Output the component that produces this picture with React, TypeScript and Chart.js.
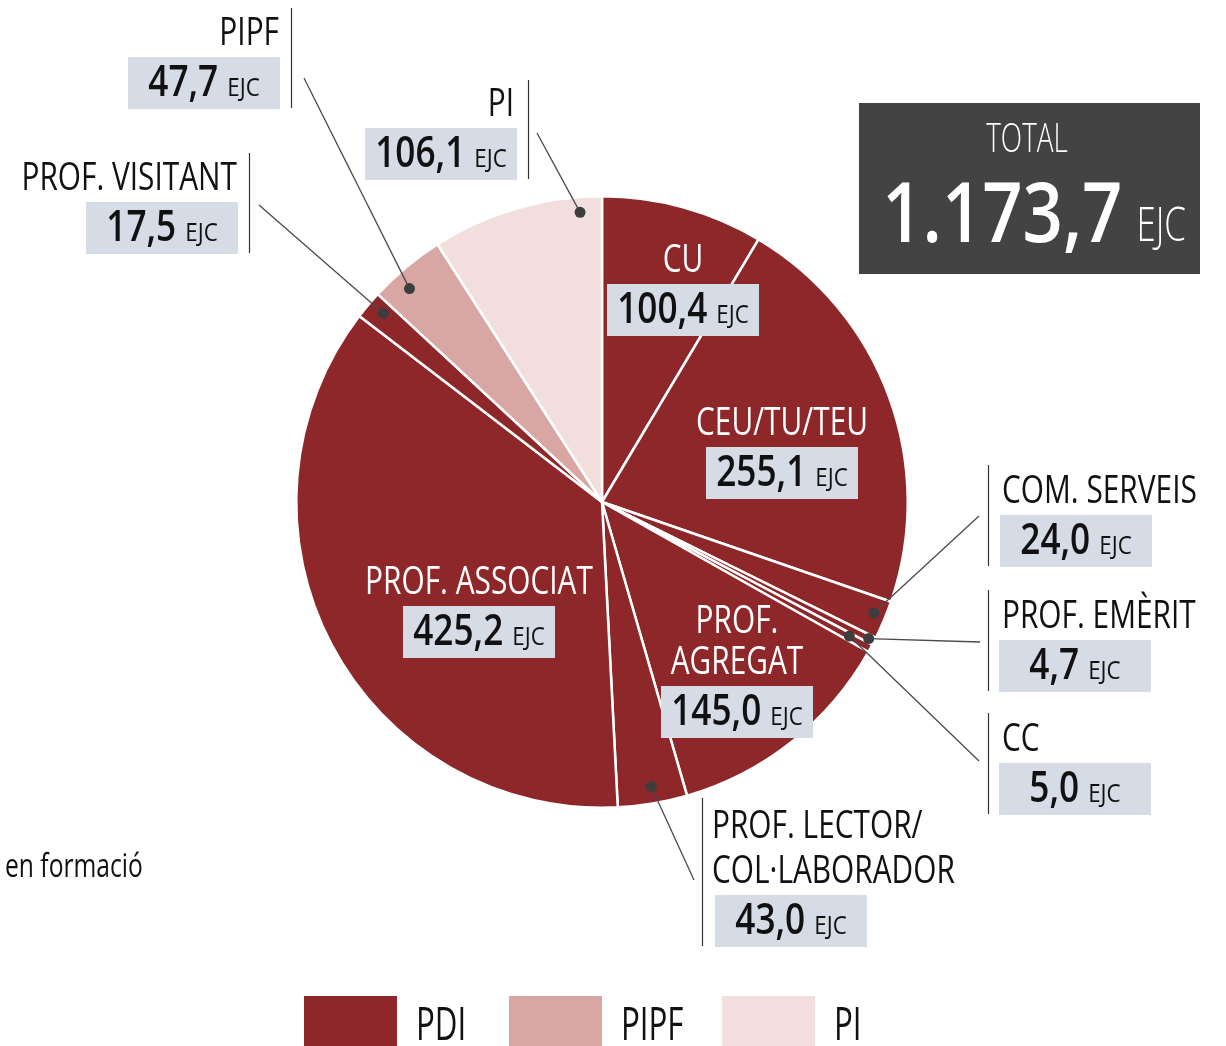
import React, { useEffect, useRef } from 'react';
import { Chart, registerables } from 'chart.js';

Chart.register(...registerables);

// ---------------- DATA ----------------
const CATEGORIES = [
  'CU',
  'CEU/TU/TEU',
  'COM. SERVEIS',
  'PROF. EMÈRIT',
  'CC',
  'PROF. AGREGAT',
  'PROF. LECTOR/COL·LABORADOR',
  'PROF. ASSOCIAT',
  'PROF. VISITANT',
  'PIPF',
  'PI',
];
const LABEL_LINES = [
  ['CU'],
  ['CEU/TU/TEU'],
  ['COM. SERVEIS'],
  ['PROF. EMÈRIT'],
  ['CC'],
  ['PROF.', 'AGREGAT'],
  ['PROF. LECTOR/', 'COL·LABORADOR'],
  ['PROF. ASSOCIAT'],
  ['PROF. VISITANT'],
  ['PIPF'],
  ['PI'],
];
const VALUES = [100.4, 255.1, 24.0, 4.7, 5.0, 145.0, 43.0, 425.2, 17.5, 47.7, 106.1];
const GROUP_OF = ['PDI', 'PDI', 'PDI', 'PDI', 'PDI', 'PDI', 'PDI', 'PDI', 'PDI', 'PIPF', 'PI'];
const LEGEND_GROUPS = ['PDI', 'PIPF', 'PI'];
const UNIT = 'EJC';
const TOTAL_TITLE = 'TOTAL';
const FOOTNOTE = 'en formació';

// ---------------- STYLE / LAYOUT ----------------
const GROUP_COLORS: Record<string, string> = {
  PDI: '#8E2729',
  PIPF: '#D8A7A3',
  PI: '#F1DEDD',
};
const BOX_BG = '#D6DCE5';
const BOX_W = 152;
const BOX_H = 52;
const FONT_FAMILY = '"Open Sans", "Noto Sans", sans-serif';
const LABEL_FONT = `400 39px ${FONT_FAMILY}`;
const LABEL_SX = 0.765;
const NUM_FONT = `600 44px ${FONT_FAMILY}`;
const NUM_SX = 0.8;
const UNIT_FONT = `400 26px ${FONT_FAMILY}`;
const UNIT_SX = 0.86;
const NUM_GAP = 9;
const LEADER_COLOR = '#4A4A4A';
const DOT_COLOR = '#3D3D3D';

type Layout = {
  mode: 'inside' | 'left' | 'right';
  boxX: number;
  boxY: number;
  lineGap?: number;
  textX?: number;
  lineX?: number;
  lineTop?: number;
  from?: [number, number];
  t?: number;
  rFrac?: number;
};

const LAYOUT: Layout[] = [
  { mode: 'inside', boxX: 607, boxY: 284 },
  { mode: 'inside', boxX: 706, boxY: 447 },
  { mode: 'right', boxX: 1000, boxY: 515, textX: 1002, lineX: 988, lineTop: 465, from: [979, 516], t: 0.43, rFrac: 0.96 },
  { mode: 'right', boxX: 999, boxY: 640, textX: 1002, lineX: 988, lineTop: 590, from: [980, 642], t: 0.5, rFrac: 0.98 },
  { mode: 'right', boxX: 999, boxY: 763, textX: 1002, lineX: 988, lineTop: 713, from: [979, 761], t: 0.4, rFrac: 0.92 },
  { mode: 'inside', boxX: 661, boxY: 686, lineGap: 41 },
  { mode: 'right', boxX: 715, boxY: 895, textX: 712, lineX: 702, lineTop: 798, lineGap: 45, from: [694, 880], t: 0.48, rFrac: 0.945 },
  { mode: 'inside', boxX: 403, boxY: 606 },
  { mode: 'left', boxX: 86, boxY: 202, textX: 237, lineX: 249, lineTop: 153, from: [259, 205], t: 0.62, rFrac: 0.945 },
  { mode: 'left', boxX: 128, boxY: 57, textX: 279, lineX: 291, lineTop: 8, from: [304, 78], t: 0.35, rFrac: 0.94 },
  { mode: 'left', boxX: 365, boxY: 128, textX: 514, lineX: 528, lineTop: 80, from: [537, 133], t: 0.867, rFrac: 0.95 },
];

const LEGEND_X = [304, 509, 722];

function fmt(v: number): string {
  const [i, d] = v.toFixed(1).split('.');
  return i.replace(/\B(?=(\d{3})+(?!\d))/g, '.') + ',' + d;
}

function txt(
  ctx: CanvasRenderingContext2D,
  s: string,
  x: number,
  y: number,
  font: string,
  color: string,
  sx: number,
  align: 'left' | 'center' | 'right'
): number {
  ctx.save();
  ctx.font = font;
  const w = ctx.measureText(s).width * sx;
  let left = x;
  if (align === 'center') left = x - w / 2;
  else if (align === 'right') left = x - w;
  ctx.translate(left, y);
  ctx.scale(sx, 1);
  ctx.fillStyle = color;
  ctx.textAlign = 'left';
  ctx.textBaseline = 'alphabetic';
  ctx.fillText(s, 0, 0);
  ctx.restore();
  return w;
}

function measure(ctx: CanvasRenderingContext2D, s: string, font: string, sx: number) {
  ctx.save();
  ctx.font = font;
  const w = ctx.measureText(s).width * sx;
  ctx.restore();
  return w;
}

function valueBox(ctx: CanvasRenderingContext2D, x: number, y: number, v: number) {
  ctx.fillStyle = BOX_BG;
  ctx.fillRect(x, y, BOX_W, BOX_H);
  const num = fmt(v);
  const wn = measure(ctx, num, NUM_FONT, NUM_SX);
  const wu = measure(ctx, UNIT, UNIT_FONT, UNIT_SX);
  const start = x + (BOX_W - (wn + NUM_GAP + wu)) / 2;
  txt(ctx, num, start, y + 39, NUM_FONT, '#111111', NUM_SX, 'left');
  txt(ctx, UNIT, start + wn + NUM_GAP, y + 39, UNIT_FONT, '#111111', UNIT_SX, 'left');
}

const labelPlugin = {
  id: 'customLabels',
  afterDraw(chart: any) {
    const ctx: CanvasRenderingContext2D = chart.ctx;
    const meta = chart.getDatasetMeta(0);
    ctx.save();

    // leader lines + dots
    meta.data.forEach((arc: any, i: number) => {
      const L = LAYOUT[i];
      if (L.mode === 'inside' || !L.from) return;
      const a = arc.startAngle + (L.t ?? 0.5) * (arc.endAngle - arc.startAngle);
      const r = arc.outerRadius * (L.rFrac ?? 0.95);
      const px = arc.x + Math.cos(a) * r;
      const py = arc.y + Math.sin(a) * r;
      ctx.strokeStyle = LEADER_COLOR;
      ctx.lineWidth = 1.3;
      ctx.beginPath();
      ctx.moveTo(L.from[0], L.from[1]);
      ctx.lineTo(px, py);
      ctx.stroke();
      ctx.fillStyle = DOT_COLOR;
      ctx.beginPath();
      ctx.arc(px, py, 5.5, 0, Math.PI * 2);
      ctx.fill();
    });

    // labels
    VALUES.forEach((v, i) => {
      const L = LAYOUT[i];
      const lines = LABEL_LINES[i];
      const gap = L.lineGap ?? 41;
      const baseY = L.boxY - 12;
      if (L.mode === 'inside') {
        const cx = L.boxX + BOX_W / 2;
        lines.forEach((s, k) => {
          const y = baseY - (lines.length - 1 - k) * gap;
          txt(ctx, s, cx, y, LABEL_FONT, '#FFFFFF', LABEL_SX, 'center');
        });
      } else {
        const align = L.mode === 'left' ? 'right' : 'left';
        lines.forEach((s, k) => {
          const y = baseY - (lines.length - 1 - k) * gap;
          txt(ctx, s, L.textX as number, y, LABEL_FONT, '#111111', LABEL_SX, align);
        });
        ctx.strokeStyle = '#333333';
        ctx.lineWidth = 1.2;
        ctx.beginPath();
        ctx.moveTo((L.lineX as number) + 0.5, L.lineTop as number);
        ctx.lineTo((L.lineX as number) + 0.5, L.boxY + BOX_H - 1);
        ctx.stroke();
      }
      valueBox(ctx, L.boxX, L.boxY, v);
    });

    // total box
    const total = VALUES.reduce((s, v) => s + v, 0);
    ctx.fillStyle = '#434343';
    ctx.fillRect(859, 103, 341, 171);
    txt(ctx, TOTAL_TITLE, 1027, 152, `300 41px ${FONT_FAMILY}`, '#FFFFFF', 0.68, 'center');
    const bigFont = `600 83px ${FONT_FAMILY}`;
    const bigUnitFont = `300 47px ${FONT_FAMILY}`;
    const totalStr = fmt(total);
    const wb = measure(ctx, totalStr, bigFont, 0.85);
    const wbu = measure(ctx, UNIT, bigUnitFont, 0.74);
    const bstart = 1034 - (wb + 14 + wbu) / 2;
    txt(ctx, totalStr, bstart, 242, bigFont, '#FFFFFF', 0.85, 'left');
    txt(ctx, UNIT, bstart + wb + 14, 241, bigUnitFont, '#FFFFFF', 0.74, 'left');

    // footnote fragment
    txt(ctx, FOOTNOTE, 5, 877, `400 32px ${FONT_FAMILY}`, '#111111', 0.77, 'left');

    // legend
    LEGEND_GROUPS.forEach((g, k) => {
      const x = LEGEND_X[k];
      ctx.fillStyle = GROUP_COLORS[g];
      ctx.fillRect(x, 996, 93, 52);
      txt(ctx, g, x + 112, 1040, `400 46px ${FONT_FAMILY}`, '#111111', 0.68, 'left');
    });

    ctx.restore();
  },
};

export default function App() {
  const canvasRef = useRef<HTMLCanvasElement | null>(null);

  useEffect(() => {
    const canvas = canvasRef.current;
    if (!canvas) return;
    const chart = new Chart(canvas, {
      type: 'pie',
      data: {
        labels: CATEGORIES,
        datasets: [
          {
            data: VALUES,
            backgroundColor: GROUP_OF.map((g) => GROUP_COLORS[g]),
            borderColor: '#FFFFFF',
            borderWidth: 2.5,
          },
        ],
      },
      options: {
        responsive: false,
        animation: false,
        events: [],
        layout: { padding: { left: 295, right: 317, top: 195, bottom: 237 } },
        plugins: {
          legend: { display: false },
          tooltip: { enabled: false },
        },
      },
      plugins: [labelPlugin],
    });
    return () => chart.destroy();
  }, []);

  return (
    <div style={{ position: 'absolute', left: 0, top: 0, width: 1226, height: 1046, background: '#FFFFFF' }}>
      <canvas ref={canvasRef} width={1226} height={1046} style={{ display: 'block' }} />
    </div>
  );
}
